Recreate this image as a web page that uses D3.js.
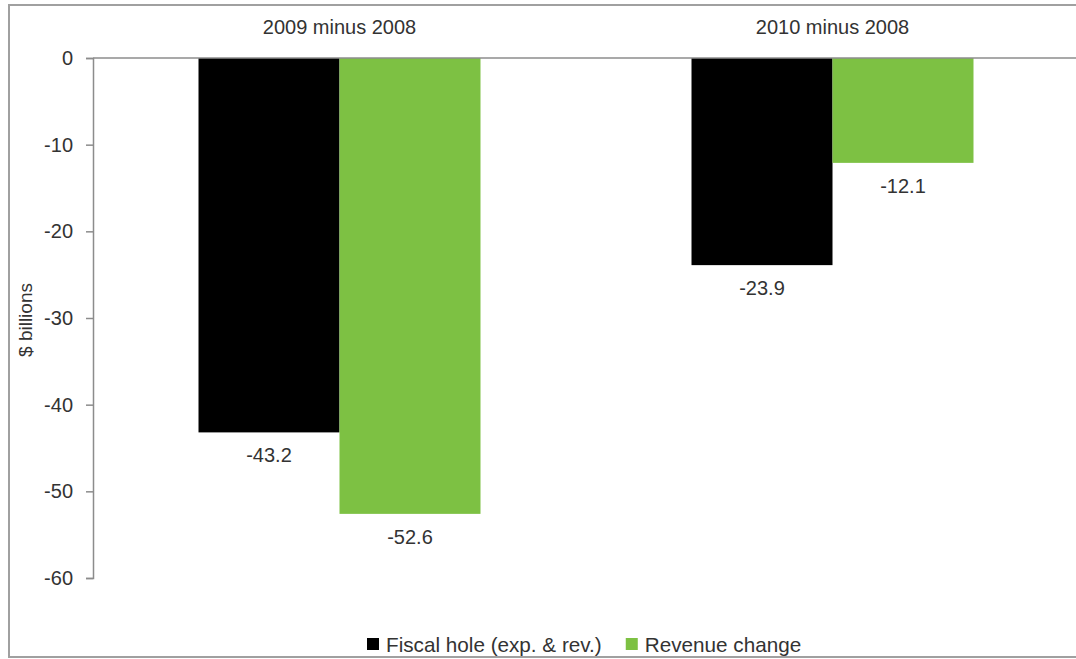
<!DOCTYPE html>
<html>
<head>
<meta charset="utf-8">
<script src="https://cdn.jsdelivr.net/npm/d3@7"></script>
<style>
  html, body { margin: 0; padding: 0; background: #fff; }
  svg { display: block; font-family: "Liberation Sans", Arial, sans-serif; }
</style>
</head>
<body>
<svg id="chart" width="1076" height="659"></svg>
<script>
// Change in fiscal position relative to 2008, $ billions
const categories = ["2009 minus 2008", "2010 minus 2008"];
const seriesNames = ["Fiscal hole (exp. & rev.)", "Revenue change"];
const fiscalHole = [-43.2, -23.9];
const revenueChange = [-52.6, -12.1];
const yTicks = [0, -10, -20, -30, -40, -50, -60];

const seriesColors = ["#000000", "#7dc143"];
const seriesValues = [fiscalHole, revenueChange];

const svg = d3.select("#chart");
const textColor = "#333";
const axisColor = "#8c8c8c";
const fontSize = "20px";

// plain hyphen for negatives
const fmtInt = d => String(d3.format("d")(d)).replace("\u2212", "-");
const fmtVal = d => String(d3.format(".1f")(d)).replace("\u2212", "-");

// outer frame
svg.append("rect")
  .attr("x", 9).attr("y", 5)
  .attr("width", 1100).attr("height", 652)
  .attr("fill", "#fff")
  .attr("stroke", "#a0a0a0")
  .attr("stroke-width", 2);

const plot = { left: 93, right: 1079, top: 58, bottom: 578 };

const y = d3.scaleLinear().domain([-60, 0]).range([plot.bottom, plot.top]);
const x0 = d3.scaleBand().domain(categories)
  .range([plot.left, plot.right])
  .paddingInner(0.428).paddingOuter(0.214);
const x1 = d3.scaleBand().domain(seriesNames).range([0, x0.bandwidth()]);

// value axis on the left
const yAxis = d3.axisLeft(y).tickValues(yTicks).tickSize(7).tickPadding(13)
  .tickFormat(fmtInt);
const yg = svg.append("g").attr("transform", `translate(${plot.left},0)`).call(yAxis);
yg.select(".domain").attr("stroke", axisColor).attr("stroke-width", 1.5);
yg.selectAll(".tick line").attr("stroke", axisColor).attr("stroke-width", 1.5);
yg.selectAll(".tick text")
  .attr("fill", textColor)
  .style("font-size", fontSize)
  .style("font-family", "'Liberation Sans', Arial, sans-serif");

// axis title
svg.append("text")
  .attr("transform", `translate(32,${(plot.top + plot.bottom) / 2 + 2}) rotate(-90)`)
  .attr("text-anchor", "middle")
  .attr("fill", textColor)
  .style("font-size", "19px")
  .text("$ billions");

// bars
const rows = [];
categories.forEach((c, i) => {
  seriesNames.forEach((s, j) => {
    rows.push({ cat: c, series: s, value: seriesValues[j][i], color: seriesColors[j] });
  });
});

const bars = svg.append("g");
bars.selectAll("rect").data(rows).enter().append("rect")
  .attr("x", d => x0(d.cat) + x1(d.series))
  .attr("y", d => y(0))
  .attr("width", x1.bandwidth())
  .attr("height", d => y(d.value) - y(0))
  .attr("fill", d => d.color);

// category axis along zero
svg.append("line")
  .attr("x1", plot.left).attr("x2", plot.right)
  .attr("y1", y(0)).attr("y2", y(0))
  .attr("stroke", axisColor).attr("stroke-width", 1.5);

// category labels above the plot
svg.append("g").selectAll("text").data(categories).enter().append("text")
  .attr("x", d => x0(d) + x0.bandwidth() / 2)
  .attr("y", 34)
  .attr("text-anchor", "middle")
  .attr("fill", textColor)
  .style("font-size", fontSize)
  .text(d => d);

// value labels below each bar end
svg.append("g").selectAll("text").data(rows).enter().append("text")
  .attr("x", d => x0(d.cat) + x1(d.series) + x1.bandwidth() / 2)
  .attr("y", d => y(d.value) + 30)
  .attr("text-anchor", "middle")
  .attr("fill", textColor)
  .style("font-size", fontSize)
  .text(d => fmtVal(d.value));

// legend
const legend = svg.append("g").attr("transform", "translate(367,638)");
let lx = 0;
seriesNames.forEach((s, j) => {
  const item = legend.append("g").attr("transform", `translate(${lx},0)`);
  item.append("rect").attr("width", 12).attr("height", 12).attr("fill", seriesColors[j]);
  const t = item.append("text")
    .attr("x", 19).attr("y", 14)
    .attr("fill", textColor)
    .style("font-size", "20.7px")
    .text(s);
  lx += 19 + t.node().getComputedTextLength() + 24;
});
</script>
</body>
</html>
